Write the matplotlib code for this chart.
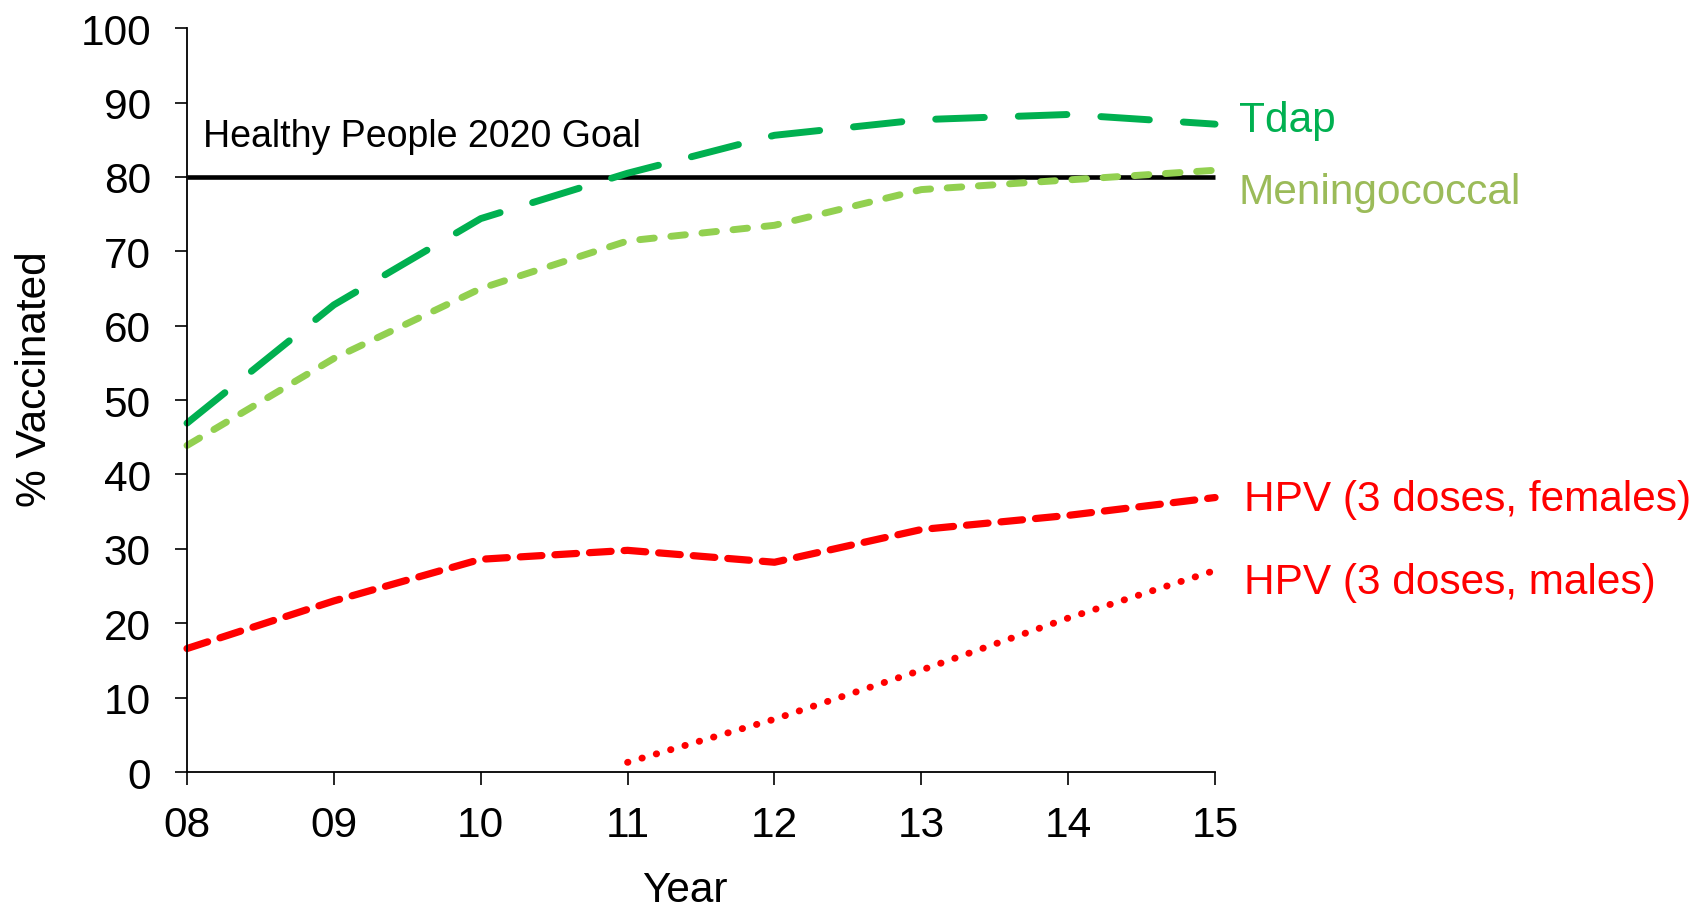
import matplotlib
matplotlib.use('Agg')
import matplotlib.pyplot as plt

plt.rcParams['font.family'] = ['Liberation Sans', 'DejaVu Sans']

# data (% vaccinated by survey year)
years = [8, 9, 10, 11, 12, 13, 14, 15]
year_labels = ['08', '09', '10', '11', '12', '13', '14', '15']
tdap = [46.9, 62.8, 74.4, 80.5, 85.6, 87.7, 88.4, 87.1]
mening = [43.9, 55.6, 65.0, 71.4, 73.5, 78.3, 79.6, 80.9]
hpv_f = [16.6, 23.0, 28.6, 29.8, 28.2, 32.6, 34.5, 36.9]
male_years = [11, 12, 13, 14, 15]
hpv_m = [1.3, 7.1, 13.7, 20.7, 27.1]
goal = 80

fig = plt.figure(figsize=(16.97, 9.12), dpi=100)
ax = fig.add_axes([0.1102, 0.1524, 0.6058, 0.8156])

# goal line
ax.plot([years[0], years[-1]], [goal, goal], color='black', lw=3.3, solid_capstyle='butt')
ax.text(8.11, 85.5, 'Healthy People 2020 Goal', fontsize=27, va='center', ha='left')

ax.plot(years, tdap, color='#00B050', lw=5.0, dashes=(7.0, 4.9), dash_capstyle='round')
ax.plot(years, mening, color='#92D050', lw=5.0, dashes=(2.1, 2.4), dash_capstyle='round')
ax.plot(years, hpv_f, color='#FF0000', lw=5.2, dashes=(3.0, 1.8), dash_capstyle='round')
ax.plot(male_years, hpv_m, color='#FF0000', lw=5.0, dashes=(0.05, 2.1), dash_capstyle='round')

# series labels at the right end
ax.text(15.16, 87.7, 'Tdap', color='#00B050', fontsize=30.5, va='center', ha='left')
ax.text(15.16, 78.0, 'Meningococcal', color='#9BBB59', fontsize=30.5, va='center', ha='left')
ax.text(15.2, 36.7, 'HPV (3 doses, females)', color='#FF0000', fontsize=30.5, va='center', ha='left')
ax.text(15.2, 25.6, 'HPV (3 doses, males)', color='#FF0000', fontsize=30.5, va='center', ha='left')

ax.set_xlim(8, 15)
ax.set_ylim(0, 100)
ax.set_xticks(years)
ax.set_xticklabels(year_labels)
ax.set_yticks(range(0, 101, 10))

for s in ['top', 'right']:
    ax.spines[s].set_visible(False)
for s in ['left', 'bottom']:
    ax.spines[s].set_linewidth(1.3)

ax.tick_params(axis='y', direction='out', length=9, width=1.2, labelsize=30.5, pad=17)
ax.tick_params(axis='x', direction='out', length=9, width=1.2, labelsize=30.5, pad=15)

for line in ax.lines:
    line.set_clip_on(False)

fig.text(685 / 1697, 1 - 891 / 912, 'Year', fontsize=30.5, ha='center', va='center')
fig.text(35 / 1697, 1 - 379 / 912, '% Vaccinated', fontsize=30.5, ha='center', va='center', rotation=90)

fig.savefig('out.png', dpi=100)
